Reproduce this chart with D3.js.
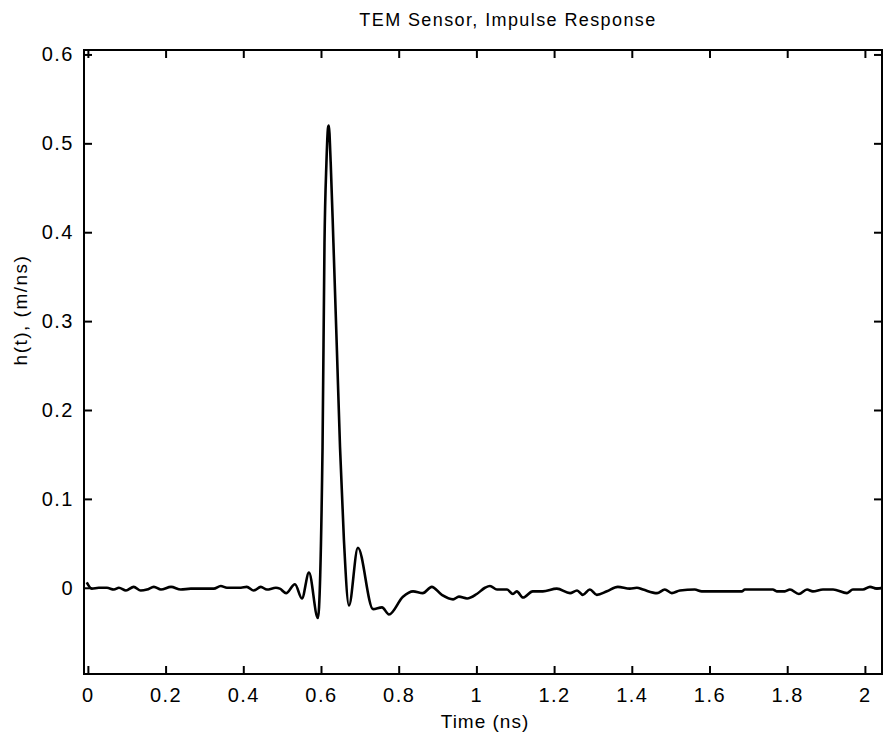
<!DOCTYPE html>
<html>
<head>
<meta charset="utf-8">
<script src="https://cdn.jsdelivr.net/npm/d3@7"></script>
<style>
  body { margin: 0; background: #fff; }
  text { font-family: "Liberation Sans", Arial, sans-serif; fill: #000; }
</style>
</head>
<body>
<div class="chartHolder"></div>
<script>
// impulse response: time (ns) and h(t) (m/ns)
var timeNs = [
    -0.003, 0.010, 0.028, 0.049, 0.067, 0.080, 0.098, 0.118, 0.136, 0.152,
    0.170, 0.188, 0.214, 0.239, 0.265, 0.291, 0.324, 0.342, 0.358, 0.394,
    0.409, 0.427, 0.445, 0.461, 0.484, 0.494, 0.510, 0.533, 0.551, 0.569,
    0.592, 0.604, 0.609, 0.614, 0.618, 0.620, 0.625, 0.632, 0.641, 0.649,
    0.659, 0.672, 0.695, 0.734, 0.757, 0.775, 0.811, 0.837, 0.862, 0.885,
    0.911, 0.940, 0.955, 0.976, 1.001, 1.022, 1.035, 1.053, 1.079, 1.094,
    1.104, 1.120, 1.145, 1.171, 1.207, 1.241, 1.259, 1.274, 1.292, 1.310,
    1.336, 1.364, 1.395, 1.413, 1.429, 1.465, 1.485, 1.503, 1.524, 1.562,
    1.580, 1.683, 1.691, 1.763, 1.773, 1.794, 1.807, 1.830, 1.851, 1.866,
    1.892, 1.918, 1.954, 1.969, 1.995, 2.013, 2.031, 2.046
];
var hValues = [
    0.006, -0.001, 0.000, 0.000, -0.002, 0.000, -0.003, 0.001, -0.003, -0.002,
    0.001, -0.002, 0.001, -0.002, -0.001, -0.001, -0.001, 0.002, 0.000, 0.000,
    0.001, -0.003, 0.001, -0.002, 0.000, -0.001, -0.006, 0.004, -0.012, 0.017,
    -0.034, 0.158, 0.388, 0.478, 0.517, 0.520, 0.478, 0.388, 0.267, 0.158,
    0.054, -0.020, 0.045, -0.024, -0.022, -0.030, -0.010, -0.004, -0.006, 0.001,
    -0.008, -0.013, -0.010, -0.012, -0.007, 0.000, 0.002, -0.002, -0.002, -0.007,
    -0.004, -0.011, -0.004, -0.004, -0.001, -0.006, -0.003, -0.008, -0.002, -0.008,
    -0.004, 0.001, -0.001, 0.000, -0.002, -0.006, -0.002, -0.006, -0.003, -0.002,
    -0.004, -0.004, -0.002, -0.002, -0.004, -0.004, -0.002, -0.007, -0.002, -0.004,
    -0.002, -0.002, -0.006, -0.002, -0.002, 0.001, -0.001, 0.000
];
var xTicks = [0, 0.2, 0.4, 0.6, 0.8, 1, 1.2, 1.4, 1.6, 1.8, 2];
var yTicks = [0, 0.1, 0.2, 0.3, 0.4, 0.5, 0.6];

var titleText = "TEM Sensor, Impulse Response",
    xLabelText = "Time (ns)",
    yLabelText = "h(t), (m/ns)";

var w = 883,
    h = 738;
// plot box (note: "top" is reserved on window, so use other names)
var boxLeft = 84, boxRight = 882, boxTop = 50, boxBottom = 674;

var svg = d3.select('.chartHolder').append('svg')
    .attr("width", w)
    .attr("height", h);

var points = timeNs.map(function(t, i){ return {t: t, v: hValues[i]}; });

var x = d3.scaleLinear()
    .domain([-0.01, 2.044])
    .range([boxLeft, boxRight]);

var y = d3.scaleLinear()
    .domain([-0.097, 0.605])
    .range([boxBottom, boxTop]);

svg.append("clipPath")
    .attr("id", "plotClip")
    .append("rect")
    .attr("x", boxLeft)
    .attr("y", boxTop)
    .attr("width", boxRight - boxLeft)
    .attr("height", boxBottom - boxTop);

// axes, ticks inward on all four sides
var tickLen = 8;
var fmt = d3.format("~g");
var xAxisBottom = d3.axisBottom(x).tickValues(xTicks).tickSize(-tickLen).tickPadding(14).tickFormat(fmt);
var xAxisTop = d3.axisTop(x).tickValues(xTicks).tickSize(-tickLen).tickFormat("");
var yAxisLeft = d3.axisLeft(y).tickValues(yTicks).tickSize(-tickLen).tickPadding(10).tickFormat(fmt);
var yAxisRight = d3.axisRight(y).tickValues(yTicks).tickSize(-tickLen).tickFormat("");

var gB = svg.append("g")
    .attr("transform", "translate(0," + boxBottom + ")")
    .call(xAxisBottom);
var gT = svg.append("g")
    .attr("transform", "translate(0," + boxTop + ")")
    .call(xAxisTop);
var gL = svg.append("g")
    .attr("transform", "translate(" + boxLeft + ",0)")
    .call(yAxisLeft);
var gR = svg.append("g")
    .attr("transform", "translate(" + boxRight + ",0)")
    .call(yAxisRight);

[gB, gT, gL, gR].forEach(function(g){
    g.select(".domain").remove();
    g.selectAll(".tick line").attr("stroke", "#000").attr("stroke-width", 2);
    g.selectAll(".tick text")
        .style("font-size", "20px")
        .style("letter-spacing", "1.5px")
        .attr("fill", "#000");
});

// frame
svg.append("rect")
    .attr("x", boxLeft)
    .attr("y", boxTop)
    .attr("width", boxRight - boxLeft)
    .attr("height", boxBottom - boxTop)
    .attr("fill", "none")
    .attr("stroke", "#000")
    .attr("stroke-width", 2);

var line = d3.line()
    .x(function(d){ return x(d.t); })
    .y(function(d){ return y(d.v); })
    .curve(d3.curveMonotoneX);

svg.append("path")
    .datum(points)
    .attr("clip-path", "url(#plotClip)")
    .attr("d", line)
    .attr("fill", "none")
    .attr("stroke", "#000")
    .attr("stroke-width", 2.6)
    .attr("stroke-linejoin", "round");

svg.append("text")
    .attr("x", 508)
    .attr("y", 26)
    .style("text-anchor", "middle")
    .style("font-size", "18px")
    .style("letter-spacing", "1.4px")
    .text(titleText);

svg.append("text")
    .attr("x", 485)
    .attr("y", 728)
    .style("text-anchor", "middle")
    .style("font-size", "19px")
    .style("letter-spacing", "1px")
    .text(xLabelText);

svg.append("text")
    .attr("transform", "translate(27," + 310 + ") rotate(-90)")
    .style("text-anchor", "middle")
    .style("font-size", "19px")
    .style("letter-spacing", "1.5px")
    .text(yLabelText);
</script>
</body>
</html>
